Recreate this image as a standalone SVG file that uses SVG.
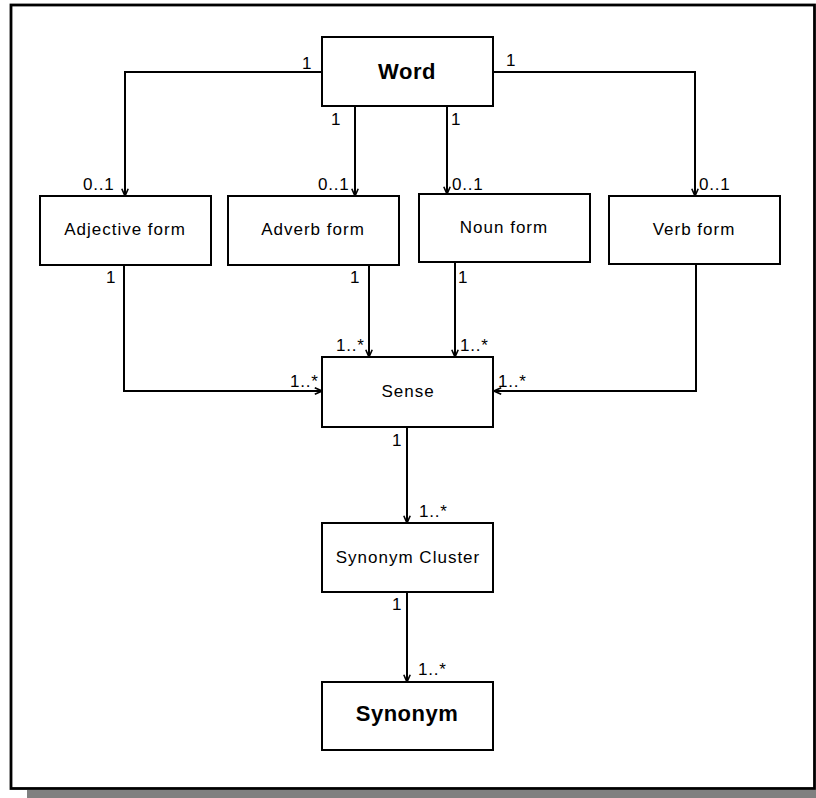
<svg xmlns="http://www.w3.org/2000/svg" width="816" height="798" viewBox="0 0 816 798">
  <style>
    .box { fill: #ffffff; stroke: #000000; stroke-width: 2; }
    .line { fill: none; stroke: #000000; stroke-width: 2; }
    .name { font-family: "Liberation Sans", Arial, sans-serif; font-size: 17px; letter-spacing: 1px; fill: #000000; text-anchor: middle; }
    .title { font-family: "Liberation Sans", Arial, sans-serif; font-size: 22px; font-weight: bold; letter-spacing: 0.5px; fill: #000000; text-anchor: middle; }
    .mult { font-family: "Liberation Sans", Arial, sans-serif; font-size: 17px; letter-spacing: 0.8px; fill: #000000; }
  </style>
  <defs>
    <marker id="open" viewBox="0 0 10 10" refX="10" refY="5" markerWidth="8" markerHeight="8" markerUnits="userSpaceOnUse" orient="auto">
      <path d="M1,1 L10,5 L1,9" fill="none" stroke="#000000" stroke-width="2"/>
    </marker>
  </defs>

  <!-- page background, drop shadow and frame -->
  <rect x="0" y="0" width="816" height="798" fill="#ffffff"/>
  <rect x="27" y="790" width="789" height="8" fill="#808080"/>
  <rect x="11" y="5" width="803.5" height="783.5" fill="none" stroke="#000000" stroke-width="2.8"/>

  <!-- connectors -->
  <g id="connectors">
    <path class="line" d="M322,72 H125 V196" marker-end="url(#open)"/>
    <path class="line" d="M493,72 H695 V196" marker-end="url(#open)"/>
    <path class="line" d="M355,106 V196" marker-end="url(#open)"/>
    <path class="line" d="M447,106 V194" marker-end="url(#open)"/>
    <path class="line" d="M124,265 V391 H322" marker-end="url(#open)"/>
    <path class="line" d="M369,265 V357" marker-end="url(#open)"/>
    <path class="line" d="M455,262 V357" marker-end="url(#open)"/>
    <path class="line" d="M696,264 V391 H494" marker-end="url(#open)"/>
    <path class="line" d="M407,427 V523" marker-end="url(#open)"/>
    <path class="line" d="M407,592 V682" marker-end="url(#open)"/>

    <!-- multiplicities -->
    <text class="mult" x="302" y="69">1</text>
    <text class="mult" x="506" y="66">1</text>
    <text class="mult" x="331" y="125">1</text>
    <text class="mult" x="451" y="125">1</text>
    <text class="mult" x="83" y="190">0..1</text>
    <text class="mult" x="318" y="190">0..1</text>
    <text class="mult" x="452" y="190">0..1</text>
    <text class="mult" x="699" y="190">0..1</text>
    <text class="mult" x="106" y="283">1</text>
    <text class="mult" x="350" y="283">1</text>
    <text class="mult" x="458" y="283">1</text>
    <text class="mult" x="336" y="351">1..*</text>
    <text class="mult" x="460" y="351">1..*</text>
    <text class="mult" x="290" y="387">1..*</text>
    <text class="mult" x="498" y="387">1..*</text>
    <text class="mult" x="392" y="446">1</text>
    <text class="mult" x="419" y="517">1..*</text>
    <text class="mult" x="392" y="610">1</text>
    <text class="mult" x="418" y="675">1..*</text>
  </g>

  <!-- nodes -->
  <g id="word">
    <rect class="box" x="322" y="37" width="171" height="69"/>
    <text class="title" x="407" y="79">Word</text>
  </g>
  <g id="adjective-form">
    <rect class="box" x="40" y="196" width="171" height="69"/>
    <text class="name" x="125" y="235">Adjective form</text>
  </g>
  <g id="adverb-form">
    <rect class="box" x="228" y="196" width="171" height="69"/>
    <text class="name" x="313" y="235">Adverb form</text>
  </g>
  <g id="noun-form">
    <rect class="box" x="419" y="194" width="171" height="68"/>
    <text class="name" x="504" y="233">Noun form</text>
  </g>
  <g id="verb-form">
    <rect class="box" x="609" y="196" width="171" height="68"/>
    <text class="name" x="694" y="235">Verb form</text>
  </g>
  <g id="sense">
    <rect class="box" x="322" y="357" width="171" height="70"/>
    <text class="name" x="408" y="397">Sense</text>
  </g>
  <g id="synonym-cluster">
    <rect class="box" x="322" y="523" width="171" height="69"/>
    <text class="name" x="408" y="563">Synonym Cluster</text>
  </g>
  <g id="synonym">
    <rect class="box" x="322" y="682" width="171" height="68"/>
    <text class="title" x="407" y="721">Synonym</text>
  </g>
</svg>
